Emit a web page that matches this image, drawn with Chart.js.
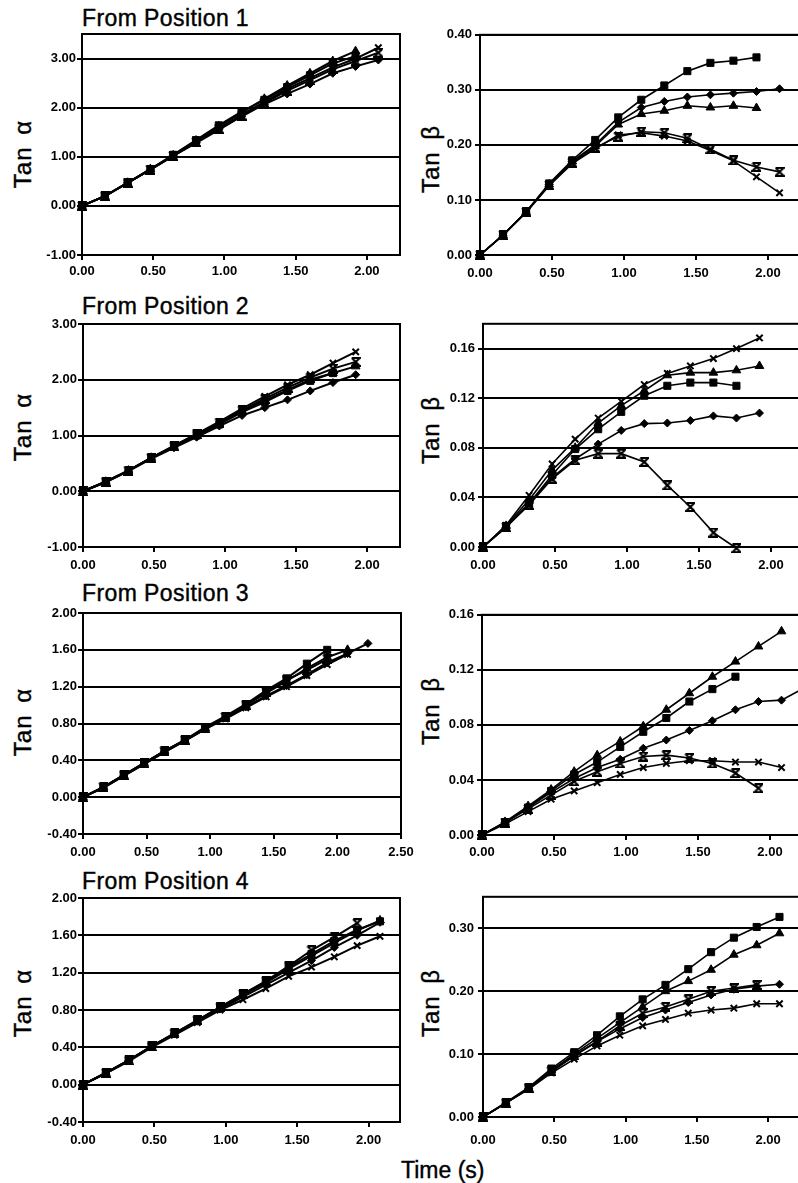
<!DOCTYPE html>
<html>
<head>
<meta charset="utf-8">
<script src="https://cdn.jsdelivr.net/npm/chart.js@4.4.0/dist/chart.umd.min.js"></script>
<style>
    html, body { margin: 0; padding: 0; background: #fff; overflow: hidden; }
    #page { position: relative; width: 798px; height: 1183px; overflow: hidden; background: #fff; }
    canvas { position: absolute; }
    .title { position: absolute; left: 82px; font: 23px "Liberation Sans", Arial, sans-serif; line-height: 23px; letter-spacing: 0.4px; white-space: nowrap; color: #000; -webkit-text-stroke: 0.4px #000; }
    .ylab { position: absolute; font: 24px "Liberation Sans", Arial, sans-serif; line-height: 24px; letter-spacing: 1px; word-spacing: 4px; white-space: nowrap; color: #000; -webkit-text-stroke: 0.4px #000; transform: translate(-50%, -50%) rotate(-90deg); }
    .xlab { position: absolute; left: 401px; top: 1159px; font: 23px "Liberation Sans", Arial, sans-serif; line-height: 23px; white-space: nowrap; color: #000; -webkit-text-stroke: 0.4px #000; }
</style>
</head>
<body>
<div id="page">
    <div class="title" style="top: 7px;">From Position 1</div>
    <div class="title" style="top: 295px;">From Position 2</div>
    <div class="title" style="top: 582px;">From Position 3</div>
    <div class="title" style="top: 870px;">From Position 4</div>

    <div class="ylab" style="left: 23px; top: 154px;">Tan α</div>
    <div class="ylab" style="left: 431px; top: 159px;">Tan β</div>
    <div class="ylab" style="left: 23px; top: 427px;">Tan α</div>
    <div class="ylab" style="left: 431px; top: 430px;">Tan β</div>
    <div class="ylab" style="left: 23px; top: 722px;">Tan α</div>
    <div class="ylab" style="left: 431px; top: 711px;">Tan β</div>
    <div class="ylab" style="left: 23px; top: 1003px;">Tan α</div>
    <div class="ylab" style="left: 431px; top: 1003px;">Tan β</div>

    <div class="xlab">Time (s)</div>

    <canvas id="p1a" width="398" height="271" style="left: 22px; top: 24px;"></canvas>
    <canvas id="p1b" width="440" height="271" style="left: 420px; top: 24px;"></canvas>
    <canvas id="p2a" width="397" height="273" style="left: 23px; top: 314px;"></canvas>
    <canvas id="p2b" width="440" height="274" style="left: 423px; top: 313px;"></canvas>
    <canvas id="p3a" width="398" height="271" style="left: 23px; top: 603px;"></canvas>
    <canvas id="p3b" width="440" height="271" style="left: 422px; top: 604px;"></canvas>
    <canvas id="p4a" width="397" height="274" style="left: 23px; top: 888px;"></canvas>
    <canvas id="p4b" width="440" height="272" style="left: 423px; top: 885px;"></canvas>
</div>

<script>
// sample times (s)
const times = [0, 0.16, 0.32, 0.48, 0.64, 0.80, 0.96, 1.12, 1.28, 1.44, 1.60, 1.76, 1.92, 2.08, 2.24];

// From Position 1
const p1AlphaDiamond  = [0, 0.20, 0.47, 0.74, 1.02, 1.28, 1.55, 1.82, 2.07, 2.28, 2.48, 2.70, 2.84, 2.97];
const p1AlphaSquare   = [0, 0.20, 0.47, 0.75, 1.04, 1.34, 1.64, 1.92, 2.16, 2.42, 2.66, 2.90, 3.05];
const p1AlphaTriangle = [0, 0.20, 0.47, 0.75, 1.03, 1.33, 1.62, 1.90, 2.18, 2.45, 2.70, 2.95, 3.15];
const p1AlphaCross    = [0, 0.20, 0.47, 0.74, 1.02, 1.30, 1.58, 1.86, 2.12, 2.38, 2.60, 2.82, 3.00, 3.22];
const p1AlphaStar     = [0, 0.20, 0.47, 0.74, 1.02, 1.30, 1.57, 1.84, 2.10, 2.34, 2.56, 2.78, 2.95, 3.12];

const p1BetaDiamond  = [0, 0.036, 0.078, 0.128, 0.170, 0.200, 0.241, 0.268, 0.279, 0.287, 0.291, 0.294, 0.297, 0.302];
const p1BetaSquare   = [0, 0.036, 0.078, 0.130, 0.172, 0.209, 0.250, 0.282, 0.308, 0.334, 0.349, 0.353, 0.359];
const p1BetaTriangle = [0, 0.036, 0.078, 0.128, 0.170, 0.198, 0.237, 0.256, 0.262, 0.271, 0.268, 0.271, 0.267];
const p1BetaCross    = [0, 0.036, 0.077, 0.126, 0.166, 0.193, 0.218, 0.222, 0.216, 0.207, 0.190, 0.171, 0.142, 0.113];
const p1BetaStar     = [0, 0.036, 0.078, 0.127, 0.168, 0.195, 0.215, 0.224, 0.222, 0.212, 0.192, 0.172, 0.160, 0.151];

// From Position 2
const p2AlphaDiamond  = [0, 0.16, 0.36, 0.58, 0.78, 0.97, 1.17, 1.36, 1.50, 1.64, 1.80, 1.95, 2.09];
const p2AlphaSquare   = [0, 0.17, 0.37, 0.60, 0.80, 1.00, 1.20, 1.42, 1.60, 1.80, 1.98, 2.12];
const p2AlphaTriangle = [0, 0.17, 0.37, 0.60, 0.80, 1.01, 1.22, 1.44, 1.63, 1.82, 2.00, 2.12, 2.24];
const p2AlphaCross    = [0, 0.17, 0.37, 0.60, 0.82, 1.03, 1.25, 1.48, 1.70, 1.91, 2.09, 2.30, 2.50];
const p2AlphaStar     = [0, 0.17, 0.37, 0.60, 0.81, 1.02, 1.23, 1.45, 1.66, 1.86, 2.04, 2.20, 2.32];

const p2BetaDiamond  = [0, 0.016, 0.035, 0.056, 0.071, 0.083, 0.094, 0.0995, 0.100, 0.102, 0.1057, 0.104, 0.108];
const p2BetaSquare   = [0, 0.016, 0.035, 0.058, 0.079, 0.095, 0.109, 0.122, 0.130, 0.1326, 0.1326, 0.130];
const p2BetaTriangle = [0, 0.017, 0.038, 0.062, 0.080, 0.100, 0.114, 0.126, 0.1385, 0.1406, 0.1406, 0.1425, 0.146];
const p2BetaCross    = [0, 0.0175, 0.0417, 0.067, 0.087, 0.104, 0.1175, 0.131, 0.140, 0.146, 0.152, 0.160, 0.1686];
const p2BetaStar     = [0, 0.016, 0.034, 0.055, 0.070, 0.0753, 0.0753, 0.0686, 0.0497, 0.0323, 0.0116, -0.001];

// From Position 3
const p3AlphaDiamond  = [0, 0.10, 0.23, 0.36, 0.49, 0.61, 0.74, 0.86, 0.98, 1.10, 1.21, 1.33, 1.46, 1.56, 1.67];
const p3AlphaSquare   = [0, 0.11, 0.24, 0.37, 0.50, 0.62, 0.76, 0.88, 1.01, 1.16, 1.29, 1.45, 1.60];
const p3AlphaTriangle = [0, 0.11, 0.24, 0.37, 0.50, 0.62, 0.75, 0.87, 1.00, 1.13, 1.26, 1.40, 1.52, 1.60];
const p3AlphaCross    = [0, 0.10, 0.23, 0.36, 0.49, 0.61, 0.74, 0.85, 0.97, 1.09, 1.20, 1.32, 1.44, 1.55];
const p3AlphaStar     = [0, 0.11, 0.24, 0.37, 0.50, 0.62, 0.75, 0.87, 1.00, 1.14, 1.27, 1.38, 1.50];

const p3BetaDiamond  = [0, 0.009, 0.020, 0.031, 0.041, 0.049, 0.055, 0.063, 0.069, 0.076, 0.083, 0.091, 0.097, 0.098, 0.107];
const p3BetaSquare   = [0, 0.009, 0.020, 0.032, 0.044, 0.053, 0.064, 0.075, 0.085, 0.097, 0.106, 0.115];
const p3BetaTriangle = [0, 0.0095, 0.021, 0.033, 0.046, 0.058, 0.068, 0.079, 0.091, 0.103, 0.115, 0.126, 0.137, 0.148];
const p3BetaCross    = [0, 0.008, 0.017, 0.026, 0.032, 0.038, 0.044, 0.049, 0.052, 0.054, 0.054, 0.053, 0.053, 0.049];
const p3BetaStar     = [0, 0.009, 0.019, 0.029, 0.039, 0.046, 0.052, 0.057, 0.058, 0.056, 0.052, 0.045, 0.034];

// From Position 4
const p4AlphaDiamond  = [0, 0.125, 0.26, 0.41, 0.545, 0.68, 0.81, 0.94, 1.07, 1.20, 1.33, 1.47, 1.60, 1.74];
const p4AlphaSquare   = [0, 0.125, 0.26, 0.41, 0.55, 0.69, 0.83, 0.97, 1.10, 1.26, 1.40, 1.54, 1.66, 1.75];
const p4AlphaTriangle = [0, 0.125, 0.26, 0.41, 0.545, 0.68, 0.82, 0.96, 1.09, 1.24, 1.38, 1.52, 1.65, 1.76];
const p4AlphaCross    = [0, 0.12, 0.25, 0.40, 0.53, 0.665, 0.80, 0.91, 1.03, 1.16, 1.26, 1.37, 1.49, 1.59];
const p4AlphaStar     = [0, 0.125, 0.26, 0.41, 0.55, 0.69, 0.83, 0.97, 1.11, 1.27, 1.44, 1.58, 1.73];

const p4BetaDiamond  = [0, 0.022, 0.045, 0.072, 0.097, 0.120, 0.140, 0.158, 0.170, 0.182, 0.194, 0.203, 0.208, 0.211];
const p4BetaSquare   = [0, 0.023, 0.047, 0.077, 0.103, 0.130, 0.160, 0.187, 0.210, 0.235, 0.262, 0.285, 0.302, 0.318];
const p4BetaTriangle = [0, 0.022, 0.046, 0.074, 0.100, 0.125, 0.150, 0.175, 0.200, 0.216, 0.234, 0.258, 0.273, 0.292];
const p4BetaCross    = [0, 0.022, 0.044, 0.070, 0.092, 0.113, 0.130, 0.145, 0.155, 0.165, 0.170, 0.173, 0.180, 0.180];
const p4BetaStar     = [0, 0.022, 0.046, 0.073, 0.098, 0.120, 0.145, 0.165, 0.175, 0.187, 0.200, 0.205, 0.210];

const Y_W = 60;   // fixed y axis width
const X_H = 40;   // fixed x axis height
const FONT = '"Liberation Sans", Arial, sans-serif';

// hourglass-like star marker (Excel's 5th marker as it shows in the scan)
function starMarker(size) {
    const c = document.createElement('canvas');
    c.width = size;
    c.height = size;
    const g = c.getContext('2d');
    g.strokeStyle = '#000';
    g.lineWidth = 2;
    g.beginPath();
    g.moveTo(1, 1);
    g.lineTo(size - 1, 1);
    g.lineTo(1, size - 1);
    g.lineTo(size - 1, size - 1);
    g.lineTo(1, 1);
    g.stroke();
    return c;
}
const STAR = starMarker(10);

// box around plot area
const framePlugin = {
    id: 'frame',
    afterDatasetsDraw(chart) {
        const a = chart.chartArea;
        const ctx = chart.ctx;
        ctx.save();
        ctx.strokeStyle = '#000';
        ctx.lineWidth = 2;
        ctx.strokeRect(a.left, a.top, a.right - a.left, a.bottom - a.top);
        ctx.restore();
    }
};

function fmt(v) {
    if (Math.abs(v) < 1e-9) v = 0;
    return v.toFixed(2);
}

function series(values, style, lw) {
    const pts = values.map((y, i) => ({ x: times[i], y: y }));
    const ds = {
        data: pts,
        borderColor: '#000',
        borderWidth: lw,
        backgroundColor: '#000',
        pointBackgroundColor: '#000',
        pointBorderColor: '#000',
        pointBorderWidth: 1,
        pointRadius: 4,
        pointStyle: style,
        tension: 0,
        fill: false,
        clip: false
    };
    if (style === 'rect') ds.pointRadius = 5;
    if (style === 'triangle') ds.pointRadius = 5;
    if (style === 'crossRot') { ds.pointRadius = 4.5; ds.pointBorderWidth = 2; }
    return ds;
}

function makeChart(id, list, xMax, yMin, yMax, yStep, xPad, yPad, lw) {
    new Chart(document.getElementById(id), {
        type: 'line',
        data: {
            datasets: [
                series(list[0], 'rectRot', lw),
                series(list[1], 'rect', lw),
                series(list[2], 'triangle', lw),
                series(list[3], 'crossRot', lw),
                series(list[4], STAR, lw)
            ]
        },
        options: {
            responsive: false,
            animation: false,
            events: [],
            layout: { padding: { top: 10, right: 20, left: 0, bottom: 0 } },
            plugins: { legend: { display: false }, tooltip: { enabled: false } },
            scales: {
                x: {
                    type: 'linear',
                    min: 0,
                    max: xMax,
                    grid: { drawOnChartArea: false, drawTicks: true, tickLength: 5, color: '#000', lineWidth: 2 },
                    border: { display: true, color: '#000', width: 2 },
                    ticks: {
                        stepSize: 0.5,
                        includeBounds: false,
                        autoSkip: false,
                        maxRotation: 0,
                        padding: xPad,
                        color: '#000',
                        font: { family: FONT, size: 13, weight: 'bold' },
                        callback: (v) => fmt(v)
                    },
                    afterFit: (s) => { s.height = X_H; }
                },
                y: {
                    min: yMin,
                    max: yMax,
                    grid: { color: '#000', lineWidth: 2, tickLength: 5 },
                    border: { display: true, color: '#000', width: 2 },
                    ticks: {
                        stepSize: yStep,
                        includeBounds: false,
                        autoSkip: false,
                        padding: yPad,
                        color: '#000',
                        font: { family: FONT, size: 13, weight: 'bold' },
                        callback: (v) => fmt(v)
                    },
                    afterFit: (s) => { s.width = Y_W; }
                }
            }
        },
        plugins: [framePlugin]
    });
}

makeChart('p1a', [p1AlphaDiamond, p1AlphaSquare, p1AlphaTriangle, p1AlphaCross, p1AlphaStar], 2.232, -1, 3.5, 1, 4, 1, 2);
makeChart('p1b', [p1BetaDiamond, p1BetaSquare, p1BetaTriangle, p1BetaCross, p1BetaStar], 2.5, 0, 0.4, 0.1, 6, 3, 1.6);
makeChart('p2a', [p2AlphaDiamond, p2AlphaSquare, p2AlphaTriangle, p2AlphaCross, p2AlphaStar], 2.232, -1, 3, 1, 6, 1, 2);
makeChart('p2b', [p2BetaDiamond, p2BetaSquare, p2BetaTriangle, p2BetaCross, p2BetaStar], 2.5, 0, 0.18, 0.04, 6, 3, 1.6);
makeChart('p3a', [p3AlphaDiamond, p3AlphaSquare, p3AlphaTriangle, p3AlphaCross, p3AlphaStar], 2.5, -0.4, 2.0, 0.4, 6, 1, 2);
makeChart('p3b', [p3BetaDiamond, p3BetaSquare, p3BetaTriangle, p3BetaCross, p3BetaStar], 2.5, 0, 0.16, 0.04, 5, 3, 1.6);
makeChart('p4a', [p4AlphaDiamond, p4AlphaSquare, p4AlphaTriangle, p4AlphaCross, p4AlphaStar], 2.22, -0.4, 2.0, 0.4, 6, 1, 2);
makeChart('p4b', [p4BetaDiamond, p4BetaSquare, p4BetaTriangle, p4BetaCross, p4BetaStar], 2.5, 0, 0.35, 0.1, 11, 4, 1.6);
</script>
</body>
</html>
